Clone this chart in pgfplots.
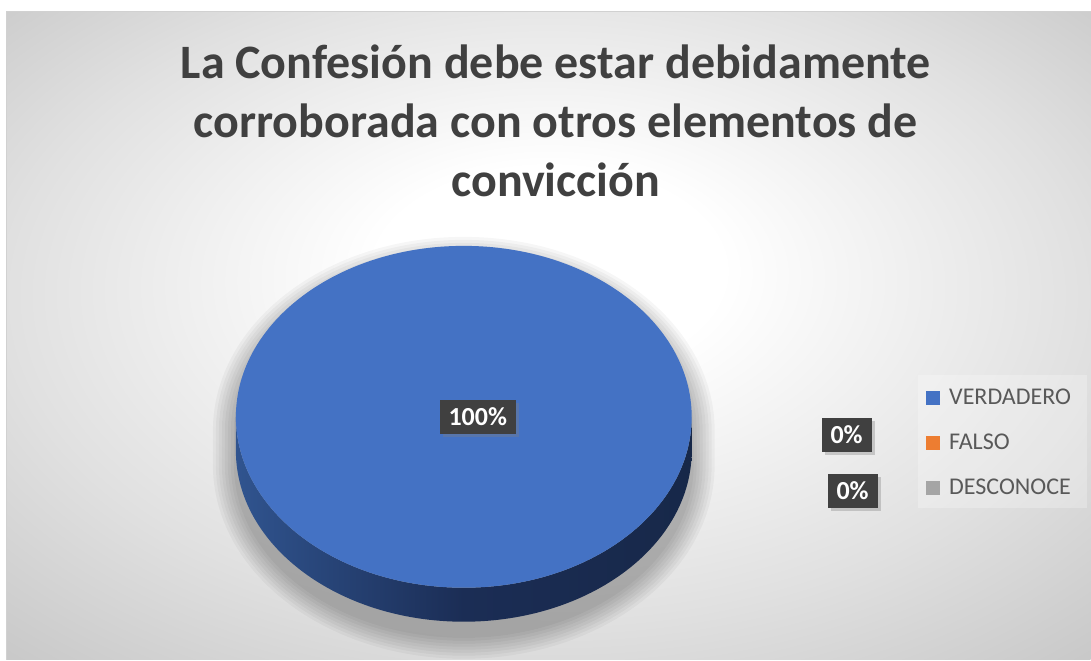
\documentclass[border=0pt]{standalone}
\usepackage{pgfplots}
\pgfplotsset{compat=1.18}
\usepackage{pgfplotstable}
\usepackage{fontspec}
\setmainfont{Carlito}
\usetikzlibrary{shadows}

\definecolor{verd}{HTML}{4472C4}
\definecolor{fals}{HTML}{ED7D31}
\definecolor{desc}{HTML}{A5A5A5}
\definecolor{titulo}{HTML}{404040}
\definecolor{leyenda}{HTML}{595959}
\definecolor{caja}{HTML}{404040}
\definecolor{ladoA}{HTML}{30548F}
\definecolor{ladoB}{HTML}{1B2D55}
\definecolor{ladoC}{HTML}{172849}

\pgfdeclareradialshading{fondo}{\pgfpoint{0bp}{6bp}}{%
  color(0bp)=(white); color(8bp)=(white);
  color(25bp)=(black!12); color(36bp)=(black!21); color(50bp)=(black!22)}

% datos del grafico
\pgfplotstableread{
cat valor
VERDADERO 100
FALSO 0
DESCONOCE 0
}\datos

\pgfplotstablegetelem{0}{valor}\of\datos \let\vA\pgfplotsretval
\pgfplotstablegetelem{1}{valor}\of\datos \let\vB\pgfplotsretval
\pgfplotstablegetelem{2}{valor}\of\datos \let\vC\pgfplotsretval
\pgfmathsetmacro\total{\vA+\vB+\vC}
\pgfmathsetmacro\pA{100*(\vA/\total)}
\pgfmathsetmacro\pB{100*(\vB/\total)}
\pgfmathsetmacro\pC{100*(\vC/\total)}
\pgfmathsetmacro\angA{360*(\vA/\total)}

% geometria (pixeles de la imagen, y hacia arriba)
\def\cx{464}\def\cy{243}\def\rx{228}\def\ry{171}\def\prof{34}

\begin{document}
\begin{tikzpicture}
\begin{axis}[
  width=1091pt, height=660pt, scale only axis,
  xmin=0, xmax=1091, ymin=0, ymax=660,
  axis lines=none, clip=false,
  legend style={at={(axis cs:918,281)}, anchor=north west,
    draw=none, fill=none,
    font=\fontsize{24}{28}\selectfont, text=leyenda,
    row sep=24pt, inner xsep=8pt, inner ysep=8pt},
  legend cell align=left,
  legend image code/.code={\fill[#1] (0pt,-6.5pt) rectangle (13pt,6.5pt); \path (21pt,0);},
]
% fondo
\fill[white] (axis cs:0,0) rectangle (axis cs:1091,660);
\shade[shading=fondo] (axis cs:7,0) rectangle (axis cs:1091,648);
\draw[black!18, line width=1pt] (axis cs:7,0) -- (axis cs:7,648) -- (axis cs:1091,648);
\fill[white, opacity=0.25] (axis cs:918,152) rectangle (axis cs:1087,285);

% sombra del pastel
\pgfplotsinvokeforeach{2,5,...,23}{
  \fill[black, opacity=0.035]
    (axis cs:\cx,\cy-14) ellipse [x radius=\rx+#1, y radius=\ry+#1]
    (axis cs:\cx-\rx-#1,\cy-14) rectangle (axis cs:\cx+\rx+#1,\cy-\prof-14)
    (axis cs:\cx,\cy-\prof-14) ellipse [x radius=\rx+#1, y radius=\ry+#1];
}

% lateral
\shade[left color=ladoA, right color=ladoC, middle color=ladoB]
  (axis cs:\cx-\rx,\cy) -- (axis cs:\cx-\rx,\cy-\prof)
  arc[start angle=180, end angle=360, x radius=\rx, y radius=\ry]
  -- (axis cs:\cx+\rx,\cy)
  arc[start angle=0, end angle=-180, x radius=\rx, y radius=\ry] -- cycle;

% cara superior: sector VERDADERO
\fill[verd] (axis cs:\cx,\cy) -- (axis cs:\cx,\cy+\ry)
  arc[start angle=90, delta angle=-\angA, x radius=\rx, y radius=\ry] -- cycle;

% etiquetas de datos
\tikzset{etq/.style={fill=caja, text=white, inner xsep=9pt, inner ysep=8pt,
  font=\fontsize{26}{30}\selectfont\bfseries,
  drop shadow={shadow xshift=3pt, shadow yshift=-3pt, opacity=0.35}}}
\node[etq] at (axis cs:478,243) {\pgfmathprintnumber[fixed,precision=0,assume math mode=true]{\pA}\%};
\node[etq] at (axis cs:847,225) {\pgfmathprintnumber[fixed,precision=0,assume math mode=true]{\pB}\%};
\node[etq] at (axis cs:853,169) {\pgfmathprintnumber[fixed,precision=0,assume math mode=true]{\pC}\%};

% titulo
\node[align=center, text=titulo, font=\fontsize{48}{59}\selectfont\bfseries]
  at (axis cs:556,539) {La Confesión debe estar debidamente\\corroborada con otros elementos de\\convicción};

\addlegendimage{verd}\addlegendentry{VERDADERO}
\addlegendimage{fals}\addlegendentry{FALSO}
\addlegendimage{desc}\addlegendentry{DESCONOCE}
\end{axis}
\end{tikzpicture}
\end{document}
